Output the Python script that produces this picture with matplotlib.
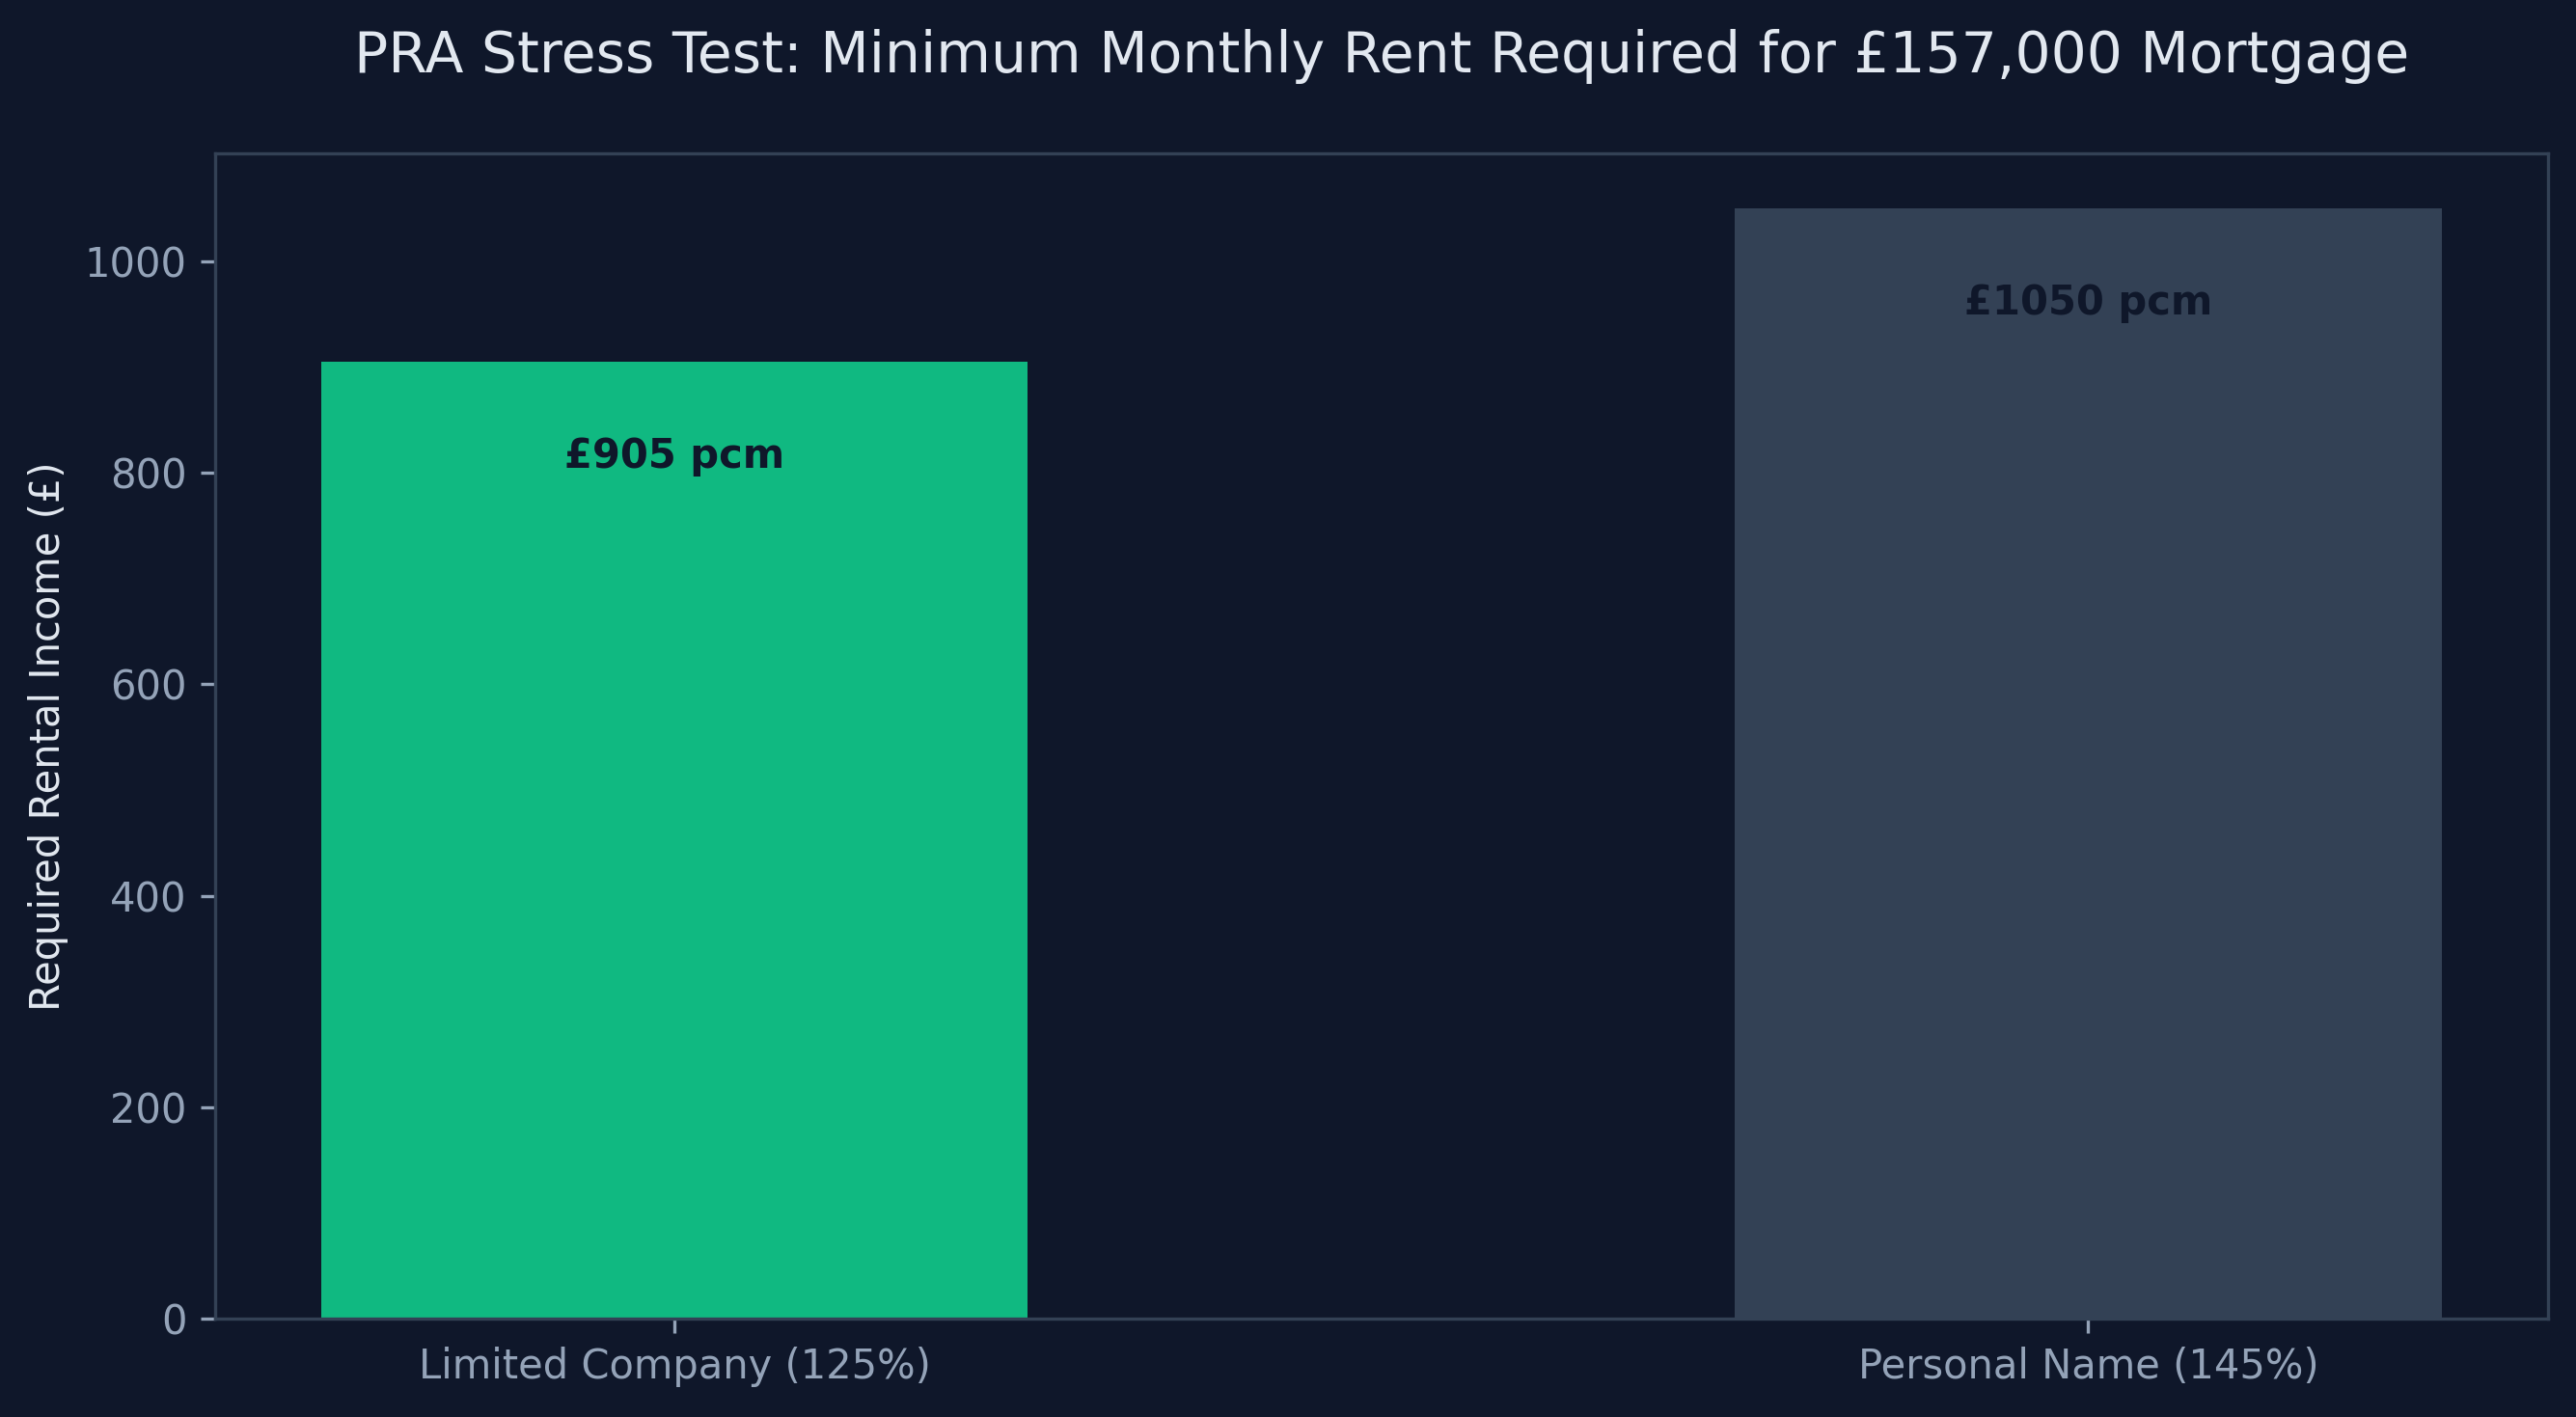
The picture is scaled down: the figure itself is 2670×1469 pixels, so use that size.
import matplotlib
matplotlib.use('Agg')
import matplotlib.pyplot as plt

# 数据
categories = ['Limited Company (125%)', 'Personal Name (145%)']
rents = [905, 1050]
bar_colors = ['#10b981', '#334155']
title = 'PRA Stress Test: Minimum Monthly Rent Required for £157,000 Mortgage'

# 颜色设置
bg = '#0f172a'
grid_c = '#334155'
tick_c = '#94a3b8'
text_c = '#e2e8f0'

fig, ax = plt.subplots(figsize=(8.9, 4.897), dpi=300)
fig.patch.set_facecolor(bg)
ax.set_facecolor(bg)

bars = ax.bar(categories, rents, color=bar_colors, width=0.5)

# 柱内标签
for b, v in zip(bars, rents):
    ax.annotate(f'£{v} pcm', xy=(b.get_x() + b.get_width() / 2, v),
                xytext=(0, -23.5), textcoords='offset points',
                ha='center', va='center', fontsize=10, fontweight='bold', color=bg)

ax.set_title(title, fontsize=14, color=text_c, pad=20)
ax.set_ylabel('Required Rental Income (£)', fontsize=10, color=text_c)
ax.tick_params(colors=tick_c, labelsize=10)
for s in ax.spines.values():
    s.set_color(grid_c)

plt.subplots_adjust(left=0.0835, right=0.989, top=0.892, bottom=0.0694)
plt.savefig('out.png', facecolor=bg)
